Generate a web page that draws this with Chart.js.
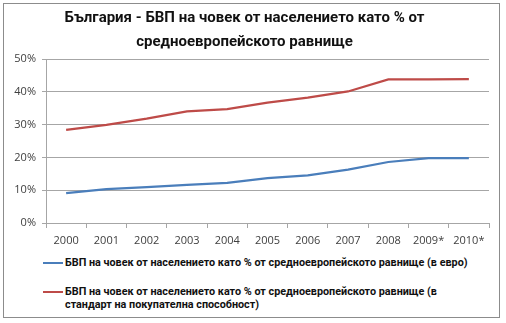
<!DOCTYPE html>
<html lang="bg">
<head>
<meta charset="utf-8">
<script src="https://cdn.jsdelivr.net/npm/chart.js@4/dist/chart.umd.min.js"></script>
<style>
    html, body { margin: 0; padding: 0; background: #fff; }
    #wrap { position: relative; width: 506px; height: 323px; overflow: hidden; }
    #frame {
        position: absolute; left: 3px; top: 3px; width: 495px; height: 313px;
        border: 1px solid #8c8c8c; pointer-events: none;
    }
    #gdp { position: absolute; left: 0; top: 0; }
    #legend {
        position: absolute; left: 43px; top: 256px; width: 440px;
        font: bold 10.8px Roboto, sans-serif; color: #111;
    }
    .item { display: flex; align-items: flex-start; margin-bottom: 16px; line-height: 13px; }
    .swatch { flex: none; width: 20px; height: 2px; margin: 6px 2px 0 0; }
</style>
</head>
<body>
<div id="wrap">
    <canvas id="gdp" width="506" height="250"></canvas>
    <div id="legend"></div>
    <div id="frame"></div>
</div>
<script>
'use strict';

// Years on the category axis (2009, 2010 are estimates)
const years = ['2000', '2001', '2002', '2003', '2004', '2005', '2006', '2007', '2008', '2009*', '2010*'];

// GDP per capita as % of the EU average, in euro
const gdpEuro = [9.1, 10.3, 10.9, 11.6, 12.2, 13.7, 14.5, 16.3, 18.6, 19.8, 19.8];

// GDP per capita as % of the EU average, in purchasing power standard
const gdpPps = [28.4, 29.9, 31.8, 34.0, 34.7, 36.7, 38.2, 40.1, 43.8, 43.8, 43.9];

const seriesNames = [
    'БВП на човек от населението като % от средноевропейското равнище (в евро)',
    'БВП на човек от населението като % от средноевропейското равнище (в стандарт на покупателна способност)'
];

const titleLines = [
    'България - БВП на човек от населението като % от',
    'средноевропейското равнище'
];

const yTicks = [0, 10, 20, 30, 40, 50];

const blue = '#4a7ebb';
const red  = '#be4b48';
const gridGray = '#a6a6a6';
const textGray = '#404040';

const chart = new Chart(document.getElementById('gdp'), {
    type: 'line',
    data: {
        labels: years,
        datasets: [
            { label: seriesNames[0], data: gdpEuro, borderColor: blue, backgroundColor: blue },
            { label: seriesNames[1], data: gdpPps,  borderColor: red,  backgroundColor: red }
        ]
    },
    options: {
        responsive: false,
        animation: false,
        elements: {
            line: { borderWidth: 2.25, tension: 0 },
            point: { radius: 0 }
        },
        layout: { padding: { left: 0, right: 17, top: 0, bottom: 0 } },
        plugins: {
            legend: { display: false },
            tooltip: { enabled: false },
            title: {
                display: true,
                text: titleLines,
                color: '#111',
                font: { family: 'Roboto, sans-serif', size: 15, weight: 'bold', lineHeight: 1.6 },
                padding: { top: 6, bottom: 5 }
            }
        },
        scales: {
            x: {
                offset: true,
                afterFit: (s) => { s.height = 27; },
                grid: { display: true, offset: true, drawOnChartArea: false, tickLength: 5, color: gridGray },
                border: { color: gridGray },
                ticks: { color: textGray, padding: 6, maxRotation: 0, font: { family: '"Open Sans", sans-serif', size: 11 } }
            },
            y: {
                min: 0,
                max: 50,
                afterFit: (s) => { s.width = 46; },
                afterBuildTicks: (s) => { s.ticks = yTicks.map(v => ({ value: v })); },
                grid: { color: gridGray, tickLength: 4 },
                border: { color: gridGray },
                ticks: {
                    color: textGray, padding: 6,
                    font: { family: '"Open Sans", sans-serif', size: 11 },
                    callback: (v) => v + '%'
                }
            }
        }
    }
});

// HTML legend, so long series names can wrap
const legendEl = document.getElementById('legend');
chart.data.datasets.forEach((ds) => {
    const item = document.createElement('div');
    item.className = 'item';
    const sw = document.createElement('span');
    sw.className = 'swatch';
    sw.style.background = ds.borderColor;
    const txt = document.createElement('span');
    txt.textContent = ds.label;
    item.appendChild(sw);
    item.appendChild(txt);
    legendEl.appendChild(item);
});
</script>
</body>
</html>
